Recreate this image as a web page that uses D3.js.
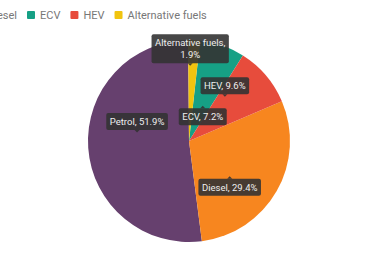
<!DOCTYPE html>
<html>
<head>
<meta charset="utf-8">
<script src="https://cdn.jsdelivr.net/npm/d3@7"></script>
<style>
  body { margin: 0; background: #fff; }
  svg { display: block; font-family: Roboto, "Noto Sans", sans-serif; }
</style>
</head>
<body>
<div id="chart"></div>
<script>
// chart data
var categories = ["Petrol", "Diesel", "ECV", "HEV", "Alternative fuels"];
var shares = [51.9, 29.4, 7.2, 9.6, 1.9];
var colors = ["#66406e", "#f7861f", "#16a085", "#e74c3c", "#f1c40f"];
// clockwise order of the slices, starting at 12 o'clock
var sliceOrder = ["Alternative fuels", "ECV", "HEV", "Diesel", "Petrol"];

var width = 370;
var height = 260;
var cx = 189, cy = 141, radius = 101;
var startDeg = -0.5;

// where each label box sits (radius fraction, angle shift in degrees, box side)
var labelSpots = {
    "Alternative fuels": {rad: 0.74, dAng: -2, side: "above"},
    "ECV": {rad: 0.38, dAng: 1.7, side: "below"},
    "HEV": {rad: 0.56, dAng: -10.2, side: "above"},
    "Diesel": {rad: 0.53, dAng: 10.8, side: "below"},
    "Petrol": {rad: 0.52, dAng: 12.6, side: "above"}
};

var data = categories.map(function(c, i) { return {name: c, value: shares[i], color: colors[i]}; });

var svg = d3.select("#chart").append("svg")
    .attr("width", width)
    .attr("height", height);

var pie = d3.pie()
    .value(function(d) { return d.value; })
    .sort(function(a, b) { return sliceOrder.indexOf(a.name) - sliceOrder.indexOf(b.name); })
    .startAngle(startDeg * Math.PI / 180)
    .endAngle(startDeg * Math.PI / 180 + 2 * Math.PI);

var arc = d3.arc().innerRadius(0).outerRadius(radius);
var arcs = pie(data);

var g = svg.append("g").attr("transform", "translate(" + cx + "," + cy + ")");

g.selectAll("path.slice").data(arcs).enter().append("path")
    .attr("class", "slice")
    .attr("d", arc)
    .attr("fill", function(d) { return d.data.color; });

// labels: dark boxes with a small pointer
var labels = g.selectAll("g.label").data(arcs).enter().append("g")
    .attr("class", "label");

labels.each(function(d) {
    var spot = labelSpots[d.data.name];
    var mid = (d.startAngle + d.endAngle) / 2 + spot.dAng * Math.PI / 180;
    var rr = spot.rad * radius;
    var ax = rr * Math.sin(mid);
    var ay = -rr * Math.cos(mid);
    var lines = d.data.name === "Alternative fuels"
        ? [d.data.name + ",", d.data.value + "%"]
        : [d.data.name + ", " + d.data.value + "%"];

    var sel = d3.select(this);
    var box = sel.append("rect");
    var ptr = sel.append("path");
    var txt = sel.append("text")
        .attr("fill", "#eeeeee")
        .attr("font-size", "9.5px")
        .attr("text-anchor", "middle");

    var lineH = 12;
    var padX = 3.5, padY = 3;
    var boxH = lines.length * lineH + 2 * padY - 1;
    var boxTop = spot.side === "above" ? ay - 3 - boxH : ay + 3;

    lines.forEach(function(l, i) {
        txt.append("tspan")
            .attr("x", ax)
            .attr("y", boxTop + padY + 9 + i * lineH)
            .text(l);
    });
    var maxW = 0;
    txt.selectAll("tspan").each(function() { maxW = Math.max(maxW, this.getComputedTextLength()); });
    var boxW = maxW + 2 * padX;

    box.attr("x", ax - boxW / 2)
        .attr("y", boxTop)
        .attr("width", boxW)
        .attr("height", boxH)
        .attr("rx", 2)
        .attr("fill", "#333333")
        .attr("fill-opacity", 0.9);

    var ptrPath = spot.side === "above"
        ? "M" + (ax - 2.5) + "," + (ay - 3) + "L" + ax + "," + (ay - 0.5) + "L" + (ax + 2.5) + "," + (ay - 3) + "Z"
        : "M" + (ax - 2.5) + "," + (ay + 3) + "L" + ax + "," + (ay + 0.5) + "L" + (ax + 2.5) + "," + (ay + 3) + "Z";
    ptr.attr("d", ptrPath)
        .attr("fill", "#333333")
        .attr("fill-opacity", 0.9);
});

// legend, laid out in a row and shifted so that it is cut at the left edge like the original
var legend = svg.append("g").attr("class", "legend");
var lx = 0;
var ecvX = 0;
data.forEach(function(d) {
    var item = legend.append("g").attr("transform", "translate(" + lx + ",0)");
    item.append("rect")
        .attr("x", 0).attr("y", 11)
        .attr("width", 8).attr("height", 8)
        .attr("rx", 1)
        .attr("fill", d.color);
    var t = item.append("text")
        .attr("x", 13).attr("y", 19)
        .attr("font-size", "11px")
        .attr("fill", "#777777")
        .text(d.name);
    if (d.name === "ECV") ecvX = lx;
    lx += 13 + t.node().getComputedTextLength() + 10;
});
legend.attr("transform", "translate(" + (27 - ecvX) + ",0)");
</script>
</body>
</html>
